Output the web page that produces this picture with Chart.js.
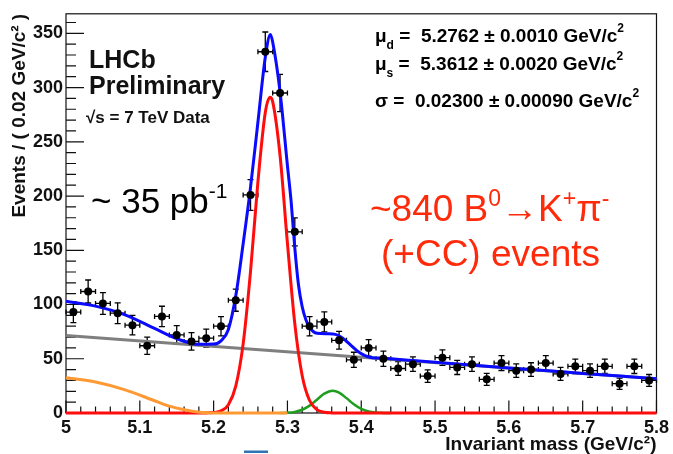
<!DOCTYPE html>
<html lang="en">
<head>
  <meta charset="UTF-8">
  <title>B0 to K+pi- invariant mass</title>
  <style>
    html, body { margin: 0; padding: 0; background: #fff; }
    canvas { display: block; }
  </style>
</head>
<body>
  <canvas id="massChart" width="673" height="454"></canvas>

  <script src="https://cdn.jsdelivr.net/npm/chart.js"></script>
  <script>
    // data points: bin centres (GeV/c^2, 0.02 wide bins), counts and errors
    const binCentres = [5.01, 5.03, 5.05, 5.07, 5.09, 5.11, 5.13, 5.15, 5.17, 5.19,
                        5.21, 5.23, 5.25, 5.27, 5.29, 5.31, 5.33, 5.35, 5.37, 5.39,
                        5.41, 5.43, 5.45, 5.47, 5.49, 5.51, 5.53, 5.55, 5.57, 5.59,
                        5.61, 5.63, 5.65, 5.67, 5.69, 5.71, 5.73, 5.75, 5.77, 5.79];
    const counts = [93, 112, 101, 92, 81, 62, 89, 72, 66, 69,
                    80, 104, 201, 333, 295, 167, 80, 84, 67, 49,
                    60, 50, 41, 45, 34, 51, 42, 45, 31, 46,
                    39, 40, 46, 36, 43, 39, 43, 27, 43, 30];
    const countErr = [9.6, 10.6, 10.0, 9.6, 9.0, 7.9, 9.4, 8.5, 8.1, 8.3,
                      8.9, 10.2, 14.2, 18.2, 17.2, 12.9, 8.9, 9.2, 8.2, 7.0,
                      7.7, 7.1, 6.4, 6.7, 5.8, 7.1, 6.5, 6.7, 5.6, 6.8,
                      6.2, 6.3, 6.8, 6.0, 6.6, 6.2, 6.6, 5.2, 6.6, 5.5];
    const binHalf = 0.01;

    // fit curves
    const totalX = [5.00, 5.04, 5.08, 5.12, 5.15, 5.18, 5.20, 5.21, 5.22, 5.23,
                    5.24, 5.25, 5.26, 5.27, 5.277, 5.28, 5.29, 5.30, 5.305, 5.31,
                    5.315, 5.32, 5.325, 5.33, 5.34, 5.355, 5.365, 5.375, 5.385, 5.395,
                    5.405, 5.415, 5.43, 5.47, 5.50, 5.60, 5.70, 5.80];
    const totalY = [103, 98.5, 90.5, 78, 68.5, 63.3, 63.5, 66.5, 77, 108,
                    156, 208, 268, 328, 349, 342, 296, 228, 195, 152,
                    118, 98, 86, 79, 73.5, 73, 72.5, 69, 63, 57,
                    53, 51, 50.5, 48.3, 46.7, 41.5, 36.5, 31.5];

    const bdX = [5.0, 5.18, 5.19, 5.20, 5.21, 5.22, 5.23, 5.24, 5.25, 5.26, 5.27, 5.2766,
                 5.28, 5.29, 5.30, 5.31, 5.32, 5.33, 5.34, 5.35, 5.36, 5.37, 5.8];
    const bdY = [0, 0, 0.1, 0.4, 1.9, 7.7, 24.8, 63.7, 130.5, 213, 277, 291,
                 287, 237.4, 156.5, 82.2, 34.4, 11.5, 3.1, 0.7, 0.1, 0, 0];

    const bsX = [5.29, 5.30, 5.31, 5.32, 5.33, 5.34, 5.35, 5.3612, 5.37, 5.38,
                 5.39, 5.40, 5.41, 5.42, 5.43, 5.44];
    const bsY = [0, 0.3, 1.05, 3.0, 6.8, 12.3, 17.8, 20.5, 18.8, 13.7,
                 8.0, 3.7, 1.4, 0.4, 0.1, 0];

    const partX = [5.0, 5.04, 5.08, 5.12, 5.14, 5.16, 5.18, 5.20, 5.30];
    const partY = [32.5, 28.5, 21.3, 11.3, 6.3, 3.0, 0.7, 0, 0];

    const combX = [5.0, 5.8];
    const combY = [71.5, 31.5];

    // axes
    const xTickValues = [5, 5.1, 5.2, 5.3, 5.4, 5.5, 5.6, 5.7, 5.8];
    const xTickLabels = ['5', '5.1', '5.2', '5.3', '5.4', '5.5', '5.6', '5.7', '5.8'];
    const yTickValues = [0, 50, 100, 150, 200, 250, 300, 350];
    const yTickLabels = ['0', '50', '100', '150', '200', '250', '300', '350'];

    const FONT = '"Liberation Sans", Arial, sans-serif';

    function pts(xs, ys) {
      return xs.map((x, i) => ({ x: x, y: ys[i] }));
    }

    function richText(ctx, x, y, parts) {
      let cx = x;
      for (const p of parts) {
        ctx.font = p.font;
        ctx.fillStyle = p.color || '#000';
        ctx.fillText(p.text, cx, y + (p.dy || 0));
        cx += ctx.measureText(p.text).width;
      }
    }

    const decorations = {
      id: 'decorations',
      beforeDatasetsDraw(chart) {
        const { ctx, chartArea: a, scales: { x, y } } = chart;
        ctx.save();
        ctx.strokeStyle = '#111';
        ctx.lineWidth = 1.2;
        ctx.strokeRect(a.left, a.top, a.right - a.left, a.bottom - a.top);

        // ticks drawn inside the frame, ROOT style
        ctx.beginPath();
        for (let k = 0; k <= 40; k++) {
          const px = x.getPixelForValue(5 + k * 0.02);
          const len = k % 5 === 0 ? 12.5 : 6.5;
          ctx.moveTo(px, a.bottom);
          ctx.lineTo(px, a.bottom - len);
        }
        for (let v = 0; v <= 360; v += 10) {
          const py = y.getPixelForValue(v);
          const len = v % 50 === 0 ? 18 : 10;
          ctx.moveTo(a.left, py);
          ctx.lineTo(a.left + len, py);
        }
        ctx.stroke();

        // error bars
        ctx.strokeStyle = '#000';
        ctx.lineWidth = 1.3;
        ctx.beginPath();
        binCentres.forEach((m, i) => {
          const px = x.getPixelForValue(m);
          const py = y.getPixelForValue(counts[i]);
          const xl = x.getPixelForValue(m - binHalf);
          const xr = x.getPixelForValue(m + binHalf);
          const yt = y.getPixelForValue(counts[i] + countErr[i]);
          const yb = y.getPixelForValue(counts[i] - countErr[i]);
          ctx.moveTo(xl, py); ctx.lineTo(xr, py);
          ctx.moveTo(xl, py - 2.5); ctx.lineTo(xl, py + 2.5);
          ctx.moveTo(xr, py - 2.5); ctx.lineTo(xr, py + 2.5);
          ctx.moveTo(px, yt); ctx.lineTo(px, yb);
          ctx.moveTo(px - 3, yt); ctx.lineTo(px + 3, yt);
          ctx.moveTo(px - 3, yb); ctx.lineTo(px + 3, yb);
        });
        ctx.stroke();
        ctx.restore();
      },
      afterDraw(chart) {
        const { ctx } = chart;
        ctx.save();
        ctx.textBaseline = 'alphabetic';
        ctx.textAlign = 'left';

        const b = s => 'bold ' + s + 'px ' + FONT;
        const n = s => s + 'px ' + FONT;

        ctx.fillStyle = '#111';
        ctx.font = b(25);
        ctx.fillText('LHCb', 89, 68);
        ctx.fillText('Preliminary', 89, 94);
        ctx.font = b(17);
        ctx.fillText('\u221As = 7 TeV Data', 86, 123);

        richText(ctx, 91, 213, [
          { text: '~ 35 pb', font: n(35) },
          { text: '-1', font: n(21), dy: -15 }
        ]);

        richText(ctx, 375, 42, [
          { text: '\u03BC', font: b(19) },
          { text: 'd', font: b(12), dy: 7 },
          { text: ' =  5.2762 \u00B1 0.0010 GeV/c', font: b(19) },
          { text: '2', font: b(12), dy: -10 }
        ]);
        richText(ctx, 375, 70, [
          { text: '\u03BC', font: b(19) },
          { text: 's', font: b(12), dy: 7 },
          { text: ' =  5.3612 \u00B1 0.0020 GeV/c', font: b(19) },
          { text: '2', font: b(12), dy: -10 }
        ]);
        richText(ctx, 375, 107, [
          { text: '\u03C3 =  0.02300 \u00B1 0.00090 GeV/c', font: b(19) },
          { text: '2', font: b(12), dy: -10 }
        ]);

        const red = '#ff2a0a';
        richText(ctx, 370, 221, [
          { text: '~840 B', font: n(37), color: red },
          { text: '0', font: n(23), dy: -15, color: red },
          { text: '\u2192K', font: n(37), color: red },
          { text: '+', font: n(23), dy: -15, color: red },
          { text: '\u03C0', font: n(37), color: red },
          { text: '-', font: n(23), dy: -15, color: red }
        ]);
        richText(ctx, 381, 266, [
          { text: '(+CC) events', font: n(37), color: red }
        ]);

        // small blue mark under the axis
        ctx.fillStyle = '#2e75b6';
        ctx.fillRect(244, 450.5, 24, 2.5);
        ctx.restore();
      }
    };

    const curve = (data, color, width, order) => ({
      data: data,
      showLine: true,
      borderColor: color,
      borderWidth: width,
      pointRadius: 0,
      cubicInterpolationMode: 'monotone',
      clip: false,
      order: order
    });

    new Chart(document.getElementById('massChart'), {
      type: 'scatter',
      data: {
        datasets: [
          {
            label: 'data',
            data: pts(binCentres, counts),
            pointRadius: 4,
            pointBackgroundColor: '#000',
            pointBorderWidth: 0,
            order: 0
          },
          curve(pts(totalX, totalY), '#0a0aff', 3, 1),
          curve(pts(partX, partY), '#ff9933', 3, 2),
          curve(pts(bdX, bdY), '#ff0d0d', 3, 3),
          curve(pts(bsX, bsY), '#1e9e1e', 2.5, 4),
          curve(pts(combX, combY), '#7f7f7f', 3, 5)
        ]
      },
      options: {
        responsive: false,
        animation: false,
        events: [],
        layout: { padding: { top: 13, right: 14, left: 0, bottom: 0 } },
        plugins: { legend: { display: false }, tooltip: { enabled: false } },
        scales: {
          x: {
            type: 'linear',
            min: 5,
            max: 5.8,
            grid: { display: false, drawTicks: false },
            border: { display: false },
            afterBuildTicks: s => { s.ticks = xTickValues.map(v => ({ value: v })); },
            afterFit: s => { s.height = 41; },
            ticks: {
              callback: (v, i) => xTickLabels[i],
              font: { family: FONT, size: 18, weight: 'bold' },
              color: '#111',
              padding: 4,
              maxRotation: 0,
              autoSkip: false
            },
            title: {
              display: true,
              text: 'Invariant mass (GeV/c\u00B2)',
              align: 'end',
              font: { family: FONT, size: 19, weight: 'bold' },
              color: '#111',
              padding: { top: 0, bottom: -2 }
            }
          },
          y: {
            type: 'linear',
            min: 0,
            max: 368,
            grid: { display: false, drawTicks: false },
            border: { display: false },
            afterBuildTicks: s => { s.ticks = yTickValues.map(v => ({ value: v })); },
            afterFit: s => { s.width = 66; },
            ticks: {
              callback: (v, i) => yTickLabels[i],
              font: { family: FONT, size: 18, weight: 'bold' },
              color: '#111',
              padding: 3
            },
            title: {
              display: true,
              text: 'Events / ( 0.02 GeV/c\u00B2 )',
              align: 'end',
              font: { family: FONT, size: 19, weight: 'bold' },
              color: '#111',
              padding: { top: 8, bottom: 0 }
            }
          }
        }
      },
      plugins: [decorations]
    });
  </script>
</body>
</html>
